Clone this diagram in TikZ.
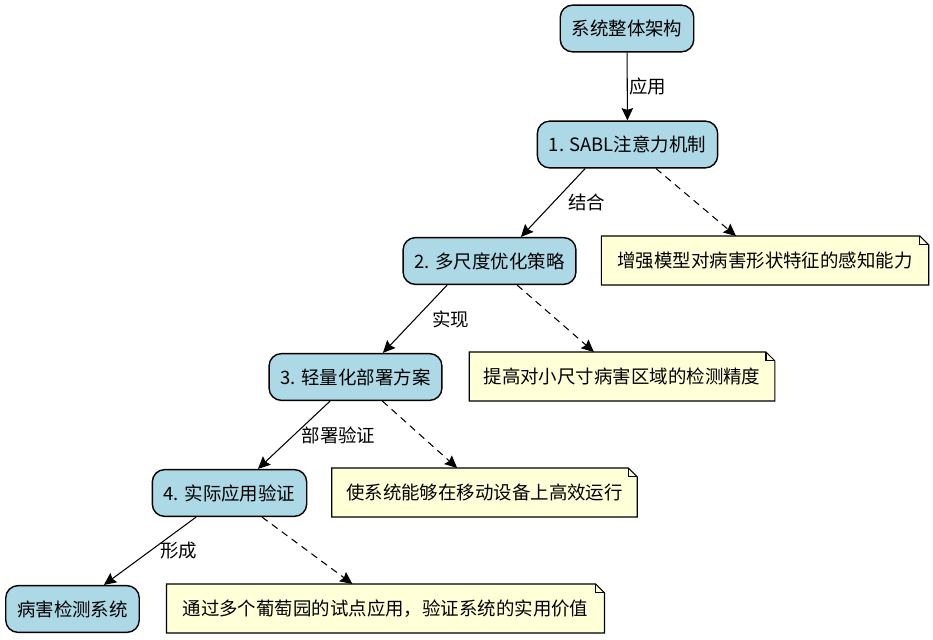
\documentclass[tikz,border=0pt]{standalone}
\usepackage{fontspec}
\setmainfont{Noto Sans CJK SC}
\usetikzlibrary{arrows.meta, backgrounds}
\definecolor{stageblue}{HTML}{ADD8E6}
\definecolor{noteyellow}{HTML}{FFFFD8}
\tikzset{
    stage/.style={draw, line width=0.8pt, fill=stageblue, rounded corners=7pt,
        minimum height=26.6pt, inner xsep=6.5pt, font=\fontsize{10.5}{12}\selectfont},
    remark/.style={minimum height=27.5pt, inner xsep=8pt, font=\fontsize{10.5}{12}\selectfont},
    flow/.style={-{Stealth[length=7pt, width=6.5pt, inset=1pt]}, line width=0.6pt},
    hint/.style={flow, dash pattern=on 4pt off 3pt},
    tag/.style={inner sep=1pt, font=\fontsize{10.5}{12}\selectfont}
}
% Notiz mit umgeknickter Ecke
\newcommand{\foldnote}[1]{%
    \begin{scope}[on background layer]
        \draw[fill=noteyellow, line width=0.6pt] (#1.south west) -- (#1.north west)
            -- ([xshift=-5pt]#1.north east) -- ([yshift=-5pt]#1.north east)
            -- (#1.south east) -- cycle;
        \draw[line width=0.6pt] ([xshift=-5pt]#1.north east) |- ([yshift=-5pt]#1.north east);
    \end{scope}
}

\begin{document}
\begin{tikzpicture}[x=0.02cm, y=-0.02cm]
\useasboundingbox (0,0) rectangle (933,639);

% Stufen
\node[stage] (arch) at (627,28.5) {系统整体架构};
\node[stage] (sabl) at (627.5,144.5) {1. SABL注意力机制};
\node[stage] (scale) at (489.5,261) {2. 多尺度优化策略};
\node[stage] (light) at (355.5,377) {3. 轻量化部署方案};
\node[stage] (apply) at (229.5,493) {4. 实际应用验证};
\node[stage] (system) at (72.5,609) {病害检测系统};

% Notizen
\node[remark, minimum width=328*0.567pt] (n1) at (765,260.5) {增强模型对病害形状特征的感知能力};
\node[remark, minimum width=306*0.567pt] (n2) at (622,376.5) {提高对小尺寸病害区域的检测精度};
\node[remark, minimum width=305*0.567pt] (n3) at (484.5,492.5) {使系统能够在移动设备上高效运行};
\node[remark, minimum width=439*0.567pt] (n4) at (385.5,608.5) {通过多个葡萄园的试点应用，验证系统的实用价值};
\foldnote{n1}
\foldnote{n2}
\foldnote{n3}
\foldnote{n4}

% Hauptpfad
\draw[flow] (arch) -- node[tag, right] {应用} (sabl);
\draw[flow] ([xshift=-42.5*0.567pt]sabl.south) -- node[tag, right=7.5pt] {结合} ([xshift=31.5*0.567pt]scale.north);
\draw[flow] ([xshift=-42.5*0.567pt]scale.south) -- node[tag, right=8.5pt] {实现} ([xshift=27.5*0.567pt]light.north);
\draw[flow] ([xshift=-25.5*0.567pt]light.south) -- node[tag, right=3pt] {部署验证} ([xshift=28.5*0.567pt]apply.north);
\draw[flow] ([xshift=-33.5*0.567pt]apply.south) -- node[tag, right=4.7pt] {形成} ([xshift=31.5*0.567pt]system.north);

% Hinweise
\draw[hint] (sabl) -- (n1);
\draw[hint] (scale) -- (n2);
\draw[hint] (light) -- (n3);
\draw[hint] (apply) -- (n4);
\end{tikzpicture}
\end{document}
